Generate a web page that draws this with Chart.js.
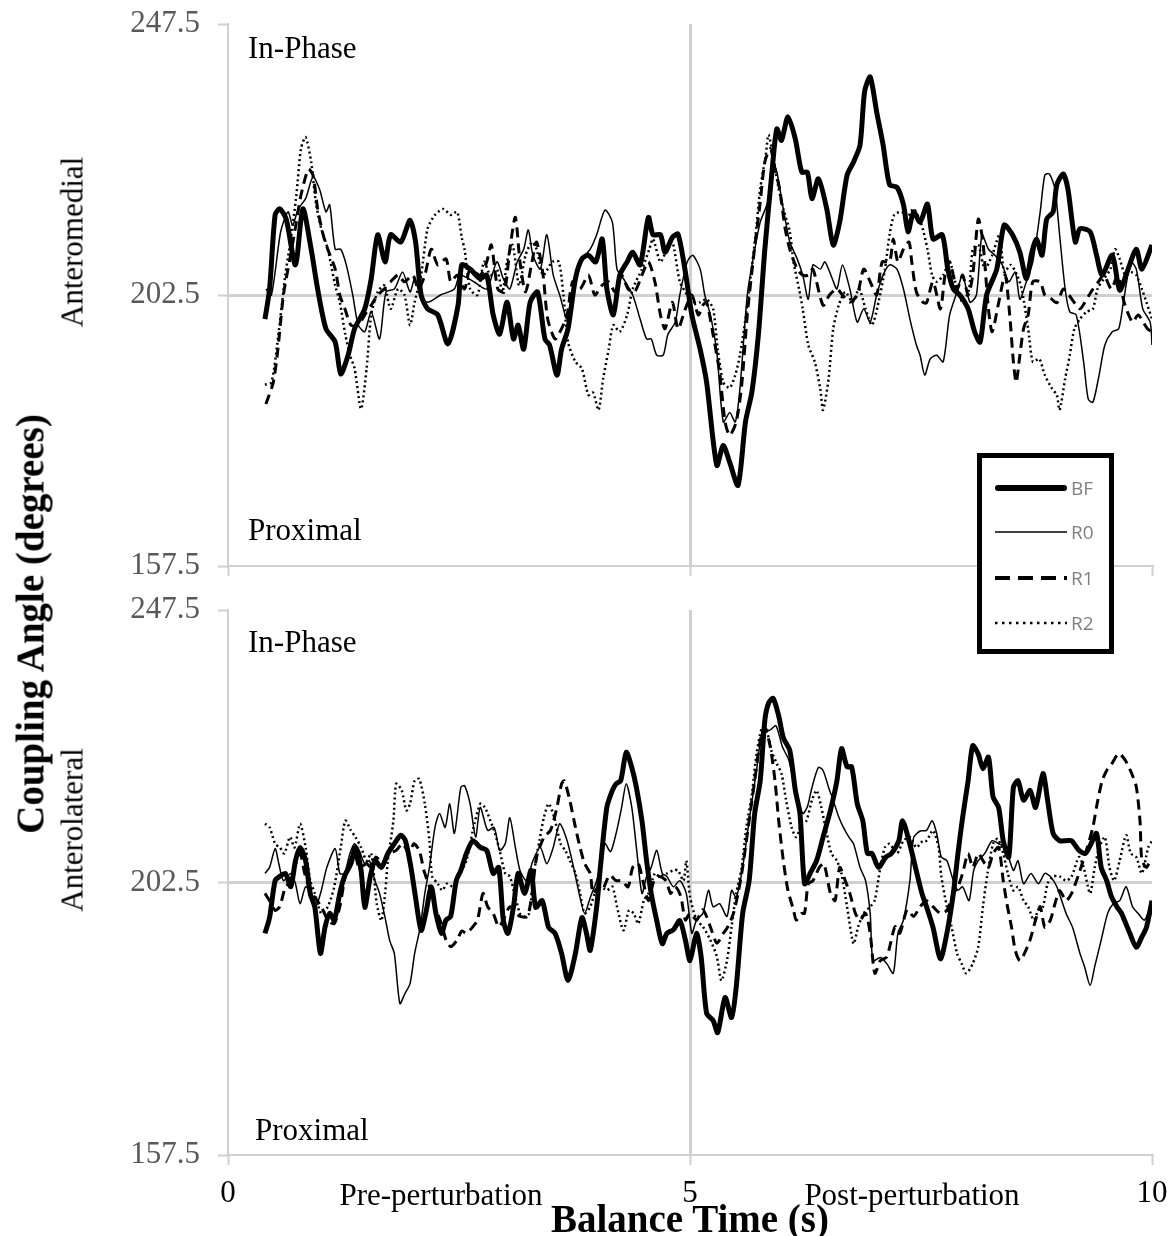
<!DOCTYPE html>
<html>
<head>
<meta charset="utf-8">
<script src="https://cdn.jsdelivr.net/npm/chart.js@4.4.1/dist/chart.umd.min.js"></script>
<style>
  body { margin: 0; background: #fff; }
  #page { position: relative; width: 1171px; height: 1236px; overflow: hidden; background: #fff;
          font-family: 'Liberation Serif', 'Times New Roman', serif; }
  canvas { position: absolute; left: 0; }
  #topChart { top: 0; }
  #bottomChart { top: 586px; }
  .lbl { position: absolute; font-size: 31px; line-height: 1; white-space: nowrap; color: #000; }
  .title { font-weight: bold; font-size: 39px; }
  .rot { transform: translate(-50%, -50%) rotate(-90deg); }
  .ctr { transform: translateX(-50%); }
  #legend { position: absolute; left: 977px; top: 453px; width: 137px; height: 201px; box-sizing: border-box;
            border: 5px solid #000; background: #fff; }
  .row { position: absolute; left: 13px; height: 20px; display: flex; align-items: center; }
  .row span { font-family: 'Open Sans', 'Liberation Sans', sans-serif; font-size: 19px; color: #7f7f7f; margin-left: 4px; }
</style>
</head>
<body>
<div id="page">
  <canvas id="topChart" width="1171" height="586"></canvas>
  <canvas id="bottomChart" width="1171" height="650"></canvas>

  <div class="lbl title rot" style="left:30px; top:624px;">Coupling Angle (degrees)</div>
  <div class="lbl rot" style="left:72px; top:242px;">Anteromedial</div>
  <div class="lbl rot" style="left:72px; top:830px;">Anterolateral</div>

  <div class="lbl" style="left:248px; top:32px;">In-Phase</div>
  <div class="lbl" style="left:248px; top:514px;">Proximal</div>
  <div class="lbl" style="left:248px; top:626px;">In-Phase</div>
  <div class="lbl" style="left:255px; top:1114px;">Proximal</div>

  <div class="lbl ctr" style="left:441px; top:1179px;">Pre-perturbation</div>
  <div class="lbl ctr" style="left:912px; top:1179px;">Post-perturbation</div>
  <div class="lbl title ctr" style="left:690px; top:1199px;">Balance Time (s)</div>

  <div id="legend"></div>
</div>
<script>
const seriesNames = ['BF', 'R0', 'R1', 'R2'];
const xTicks = [0, 5, 10];
const yTicks = [157.5, 202.5, 247.5];

// anteromedial panel, [time, angle]
const topBF = [[0.40,198.5],[0.45,203.5],[0.51,215.8],[0.56,216.8],[0.63,215.1],[0.73,207.5],[0.81,216.8],[0.90,210.1],[0.97,203.5],[1.06,196.9],[1.16,194.7],[1.22,189.4],[1.30,192.5],[1.37,196.9],[1.48,200.2],[1.55,205.2],[1.62,212.5],[1.70,208.0],[1.76,212.5],[1.87,211.3],[1.97,214.9],[2.03,211.3],[2.09,202.5],[2.16,200.2],[2.27,199.2],[2.38,194.4],[2.49,200.8],[2.53,207.5],[2.62,206.8],[2.73,205.2],[2.80,205.8],[2.87,199.2],[2.94,196.0],[3.02,201.3],[3.09,195.2],[3.14,197.5],[3.20,193.5],[3.27,201.3],[3.35,203.0],[3.43,195.2],[3.48,194.2],[3.56,189.2],[3.61,193.5],[3.68,196.9],[3.76,205.2],[3.83,208.5],[3.90,209.1],[3.98,208.0],[4.05,211.8],[4.10,203.5],[4.17,199.2],[4.24,205.8],[4.32,208.0],[4.38,209.6],[4.46,207.5],[4.55,215.4],[4.60,212.5],[4.68,212.5],[4.73,209.6],[4.81,212.1],[4.87,212.6],[4.95,206.3],[5.02,199.2],[5.11,193.5],[5.18,188.0],[5.29,174.2],[5.36,177.5],[5.43,174.7],[5.52,170.9],[5.60,181.4],[5.67,186.4],[5.74,195.9],[5.81,210.1],[5.89,223.4],[5.94,230.1],[5.99,228.2],[6.06,232.1],[6.14,228.4],[6.21,222.9],[6.27,222.9],[6.32,218.5],[6.39,221.8],[6.48,216.8],[6.55,210.8],[6.62,214.6],[6.70,222.4],[6.77,224.6],[6.84,227.4],[6.89,236.3],[6.95,238.7],[7.02,232.9],[7.09,227.4],[7.16,220.8],[7.24,220.4],[7.31,217.5],[7.36,213.0],[7.42,216.3],[7.49,214.6],[7.57,217.6],[7.63,211.8],[7.73,212.5],[7.79,206.8],[7.85,203.5],[7.92,202.5],[8.01,200.2],[8.08,196.4],[8.14,194.7],[8.21,202.5],[8.32,206.8],[8.40,214.1],[8.49,212.5],[8.57,209.6],[8.64,205.2],[8.70,209.6],[8.75,211.8],[8.81,209.1],[8.86,215.1],[8.93,216.3],[8.97,220.8],[9.04,222.6],[9.09,220.1],[9.17,211.3],[9.22,213.5],[9.33,213.0],[9.40,209.1],[9.46,205.8],[9.57,209.1],[9.65,203.3],[9.73,206.3],[9.83,210.1],[9.89,206.8],[10.0,210.8]];
const topR0 = [[0.41,203.5],[0.47,202.5],[0.57,213.0],[0.65,216.3],[0.70,214.1],[0.76,216.8],[0.84,218.5],[0.92,222.1],[0.99,220.1],[1.06,216.3],[1.10,217.5],[1.16,210.1],[1.22,210.1],[1.28,207.5],[1.35,202.5],[1.41,197.5],[1.48,196.4],[1.55,199.7],[1.64,195.2],[1.71,203.0],[1.80,203.5],[1.89,206.3],[1.97,203.0],[2.02,205.2],[2.08,202.5],[2.16,201.3],[2.30,202.5],[2.45,203.5],[2.51,205.8],[2.66,204.7],[2.80,203.5],[2.91,208.0],[2.98,205.2],[3.05,203.5],[3.13,208.0],[3.20,210.1],[3.25,213.3],[3.30,209.1],[3.38,206.8],[3.45,212.5],[3.52,205.8],[3.59,202.5],[3.67,198.5],[3.73,203.5],[3.81,208.0],[3.92,210.1],[3.99,212.5],[4.08,216.6],[4.16,214.6],[4.21,206.8],[4.28,205.2],[4.38,202.5],[4.46,198.5],[4.53,195.2],[4.58,195.2],[4.64,192.5],[4.71,192.5],[4.76,195.9],[4.84,198.0],[4.89,202.5],[4.97,208.0],[5.03,209.1],[5.11,206.8],[5.16,202.5],[5.22,199.2],[5.29,193.0],[5.36,181.4],[5.43,183.0],[5.49,181.4],[5.54,186.9],[5.62,202.5],[5.69,209.1],[5.76,214.6],[5.84,217.9],[5.89,224.6],[5.94,222.9],[6.01,216.8],[6.08,211.3],[6.16,208.5],[6.22,205.8],[6.28,201.8],[6.33,207.5],[6.41,206.8],[6.46,208.0],[6.54,205.2],[6.59,203.5],[6.65,207.5],[6.73,203.5],[6.81,198.0],[6.88,200.2],[6.95,198.0],[7.02,202.5],[7.09,205.8],[7.16,207.5],[7.24,206.8],[7.31,203.5],[7.38,198.5],[7.45,194.2],[7.49,192.5],[7.54,189.2],[7.60,191.9],[7.67,192.5],[7.74,191.4],[7.81,199.2],[7.89,203.0],[7.95,205.8],[8.03,201.3],[8.10,202.5],[8.16,212.5],[8.23,210.1],[8.30,209.1],[8.38,207.5],[8.45,204.7],[8.52,206.3],[8.57,201.8],[8.64,204.7],[8.71,208.0],[8.79,216.3],[8.84,222.4],[8.89,222.6],[8.95,220.1],[9.00,212.5],[9.06,203.5],[9.11,199.7],[9.18,199.2],[9.26,191.4],[9.31,185.2],[9.36,184.7],[9.42,188.6],[9.49,194.2],[9.57,196.4],[9.64,196.9],[9.69,201.3],[9.77,208.0],[9.83,206.8],[9.90,200.2],[9.98,198.0],[10.0,194.2]];
const topR1 = [[0.41,184.4],[0.49,188.0],[0.54,193.5],[0.60,202.5],[0.67,208.5],[0.74,214.6],[0.79,219.1],[0.87,223.4],[0.92,222.4],[0.97,216.8],[1.03,212.5],[1.08,210.1],[1.16,206.8],[1.21,202.5],[1.27,200.0],[1.33,197.5],[1.41,197.5],[1.48,199.2],[1.55,200.8],[1.62,202.5],[1.69,203.5],[1.76,204.7],[1.84,205.8],[1.91,204.7],[2.00,205.8],[2.06,203.5],[2.13,205.8],[2.20,210.1],[2.27,207.5],[2.36,208.5],[2.41,204.7],[2.48,205.8],[2.56,203.5],[2.62,206.8],[2.73,205.8],[2.80,208.0],[2.85,210.8],[2.92,203.5],[2.99,203.0],[3.05,210.1],[3.11,215.4],[3.16,208.0],[3.22,203.0],[3.29,208.0],[3.34,211.3],[3.41,205.8],[3.46,198.5],[3.54,195.2],[3.61,196.9],[3.67,199.2],[3.73,204.7],[3.81,203.5],[3.90,205.8],[3.97,202.5],[4.04,204.0],[4.12,204.7],[4.19,203.0],[4.26,205.8],[4.33,203.5],[4.40,203.0],[4.48,205.8],[4.55,208.0],[4.62,204.7],[4.68,199.2],[4.73,196.9],[4.81,201.3],[4.87,196.9],[4.95,200.2],[5.02,202.5],[5.09,199.2],[5.14,200.8],[5.18,201.3],[5.25,195.9],[5.32,189.7],[5.38,181.4],[5.43,179.2],[5.50,181.4],[5.56,187.6],[5.62,199.2],[5.69,209.1],[5.76,217.9],[5.81,224.6],[5.87,226.8],[5.92,223.4],[5.97,220.1],[6.03,213.5],[6.08,210.1],[6.16,206.8],[6.22,205.8],[6.28,205.8],[6.33,206.8],[6.44,200.8],[6.51,202.5],[6.59,203.5],[6.65,202.5],[6.73,201.3],[6.81,202.5],[6.88,206.8],[6.95,204.7],[7.02,202.5],[7.08,208.0],[7.16,208.0],[7.20,211.8],[7.25,208.0],[7.31,210.1],[7.37,211.3],[7.40,208.0],[7.45,203.0],[7.52,201.3],[7.56,201.2],[7.63,204.7],[7.71,200.2],[7.76,205.8],[7.81,208.0],[7.89,203.5],[7.95,205.8],[8.01,202.5],[8.06,205.8],[8.12,215.1],[8.17,211.3],[8.23,200.2],[8.27,196.4],[8.34,201.2],[8.41,205.8],[8.46,199.2],[8.50,191.4],[8.53,188.0],[8.57,192.5],[8.61,196.9],[8.66,199.2],[8.71,204.7],[8.79,204.7],[8.84,202.5],[8.90,202.0],[8.97,201.2],[9.04,203.5],[9.10,202.5],[9.22,200.2],[9.27,201.2],[9.34,203.0],[9.42,204.7],[9.48,205.8],[9.56,203.5],[9.63,205.8],[9.70,201.2],[9.79,198.0],[9.85,199.2],[9.95,196.9],[10.0,196.4]];
const topR2 = [[0.40,187.6],[0.47,188.0],[0.54,195.2],[0.62,205.8],[0.68,211.8],[0.74,219.1],[0.79,226.8],[0.84,228.7],[0.90,224.6],[0.95,217.9],[1.01,213.5],[1.08,210.1],[1.16,204.1],[1.21,201.3],[1.27,195.9],[1.32,192.5],[1.37,190.3],[1.44,183.6],[1.50,190.3],[1.55,199.2],[1.62,203.0],[1.69,204.1],[1.76,200.2],[1.84,203.5],[1.91,202.5],[1.97,197.5],[2.02,201.3],[2.09,205.8],[2.16,213.5],[2.24,215.8],[2.33,216.8],[2.41,215.8],[2.48,216.3],[2.53,212.0],[2.56,210.1],[2.62,203.5],[2.70,202.5],[2.77,208.0],[2.84,205.8],[2.91,206.8],[2.97,203.0],[3.02,208.0],[3.08,210.8],[3.15,204.1],[3.22,209.1],[3.29,211.3],[3.34,210.1],[3.41,205.8],[3.51,208.0],[3.58,208.0],[3.63,202.5],[3.68,194.7],[3.76,191.4],[3.83,190.3],[3.90,185.9],[3.95,186.3],[4.01,183.4],[4.06,188.6],[4.12,193.5],[4.17,197.5],[4.24,196.4],[4.32,199.2],[4.38,203.5],[4.48,206.8],[4.56,210.1],[4.60,211.8],[4.68,208.0],[4.75,210.1],[4.81,211.3],[4.89,204.7],[4.97,202.5],[5.03,201.0],[5.11,201.3],[5.18,201.8],[5.25,200.2],[5.30,193.5],[5.36,188.0],[5.43,187.1],[5.49,189.2],[5.54,192.5],[5.60,198.5],[5.65,204.7],[5.71,212.5],[5.76,220.1],[5.82,225.7],[5.85,229.1],[5.91,224.6],[5.96,220.1],[6.01,216.8],[6.08,213.0],[6.12,208.0],[6.18,203.5],[6.22,200.2],[6.28,194.2],[6.35,191.4],[6.41,186.9],[6.44,183.4],[6.50,188.6],[6.55,196.9],[6.61,200.8],[6.68,203.0],[6.76,201.3],[6.83,203.5],[6.90,200.2],[6.97,197.5],[7.04,201.3],[7.11,206.8],[7.16,212.5],[7.21,215.8],[7.29,216.3],[7.35,215.4],[7.42,216.8],[7.50,214.5],[7.57,210.1],[7.62,205.8],[7.67,204.7],[7.74,205.8],[7.81,208.0],[7.88,204.1],[7.95,201.3],[8.02,203.5],[8.06,210.1],[8.12,210.8],[8.19,206.8],[8.27,209.1],[8.35,212.5],[8.40,206.3],[8.47,207.5],[8.54,205.8],[8.59,203.5],[8.66,196.9],[8.71,191.4],[8.78,191.9],[8.84,189.2],[8.92,186.9],[8.97,185.9],[9.00,183.4],[9.06,188.6],[9.11,192.5],[9.16,196.9],[9.22,198.5],[9.29,199.7],[9.36,200.2],[9.41,203.5],[9.48,205.2],[9.55,206.8],[9.60,210.1],[9.65,208.5],[9.71,205.8],[9.77,206.3],[9.83,205.8],[9.89,203.5],[9.94,201.3],[10.0,198.5]];

// anterolateral panel
const botBF = [[0.40,194.1],[0.45,196.7],[0.51,202.8],[0.56,203.5],[0.62,204.0],[0.68,201.8],[0.73,206.1],[0.78,208.3],[0.84,206.1],[0.89,200.7],[0.94,198.4],[1.00,190.8],[1.05,195.1],[1.10,197.4],[1.15,196.3],[1.21,200.7],[1.26,203.5],[1.33,205.6],[1.38,208.3],[1.44,204.5],[1.48,198.4],[1.54,203.5],[1.59,206.1],[1.66,205.0],[1.73,207.3],[1.80,208.9],[1.87,210.3],[1.92,209.4],[1.98,205.0],[2.03,200.0],[2.09,194.6],[2.14,197.4],[2.20,201.8],[2.25,197.4],[2.31,194.1],[2.36,196.3],[2.41,196.9],[2.47,202.8],[2.52,204.5],[2.58,207.3],[2.65,209.4],[2.73,208.3],[2.80,207.8],[2.87,204.0],[2.93,205.0],[2.98,196.2],[3.03,194.1],[3.09,198.5],[3.14,204.0],[3.21,200.7],[3.28,204.5],[3.33,198.4],[3.40,199.5],[3.47,195.1],[3.54,194.1],[3.61,190.8],[3.68,186.3],[3.76,190.8],[3.83,196.7],[3.88,194.1],[3.92,191.3],[3.99,198.5],[4.03,205.0],[4.10,214.9],[4.16,217.7],[4.20,218.8],[4.25,219.3],[4.31,224.0],[4.37,221.5],[4.42,218.2],[4.48,212.7],[4.53,206.1],[4.58,200.7],[4.64,196.2],[4.70,192.4],[4.75,194.1],[4.82,194.7],[4.89,196.2],[4.95,193.0],[5.00,189.6],[5.07,194.1],[5.12,190.3],[5.18,180.9],[5.25,179.7],[5.30,177.7],[5.38,183.5],[5.45,180.2],[5.50,185.2],[5.57,197.4],[5.64,202.8],[5.70,213.9],[5.76,219.3],[5.81,229.3],[5.85,232.1],[5.90,232.9],[5.96,230.0],[6.01,226.4],[6.08,224.3],[6.14,217.7],[6.19,213.9],[6.24,202.3],[6.30,204.0],[6.37,206.1],[6.44,210.0],[6.52,214.4],[6.59,219.3],[6.64,224.6],[6.70,221.6],[6.75,221.6],[6.81,215.5],[6.87,212.7],[6.92,207.3],[6.97,207.3],[7.04,205.0],[7.12,206.7],[7.18,207.3],[7.26,209.4],[7.30,212.7],[7.37,209.4],[7.44,205.0],[7.51,200.7],[7.56,198.5],[7.63,195.1],[7.71,189.9],[7.78,194.1],[7.85,200.7],[7.90,207.3],[7.95,213.2],[8.01,219.3],[8.06,225.1],[8.12,223.7],[8.17,221.3],[8.23,223.2],[8.28,216.6],[8.34,214.9],[8.39,209.4],[8.45,206.7],[8.50,218.2],[8.55,219.3],[8.61,216.1],[8.68,217.7],[8.74,214.9],[8.82,220.5],[8.87,216.1],[8.93,210.6],[9.00,209.4],[9.07,209.4],[9.13,209.4],[9.21,207.8],[9.28,207.3],[9.34,208.9],[9.40,210.6],[9.45,205.0],[9.51,202.8],[9.56,200.2],[9.62,198.5],[9.67,197.4],[9.76,194.1],[9.83,191.8],[9.89,193.5],[9.94,195.1],[10.0,199.5]];
const botR0 = [[0.40,204.0],[0.45,205.0],[0.51,208.1],[0.55,205.6],[0.60,202.8],[0.68,204.0],[0.73,202.3],[0.78,199.0],[0.84,201.8],[0.90,200.7],[0.95,198.5],[1.01,201.2],[1.07,205.0],[1.16,208.1],[1.21,204.0],[1.26,204.0],[1.32,207.3],[1.37,208.9],[1.42,207.8],[1.48,205.6],[1.53,206.1],[1.59,202.8],[1.64,200.7],[1.70,196.7],[1.75,192.9],[1.80,190.8],[1.86,182.5],[1.91,184.0],[1.97,185.8],[2.02,190.8],[2.08,195.1],[2.13,200.7],[2.18,205.0],[2.24,211.6],[2.29,213.9],[2.35,211.6],[2.40,215.5],[2.45,210.6],[2.52,218.2],[2.56,218.5],[2.62,215.5],[2.68,210.0],[2.73,214.9],[2.81,211.1],[2.88,211.6],[2.94,207.8],[3.00,208.9],[3.05,213.2],[3.11,208.3],[3.16,204.5],[3.23,202.8],[3.30,206.1],[3.38,208.3],[3.45,205.6],[3.52,208.3],[3.59,212.2],[3.67,209.4],[3.74,205.0],[3.81,200.0],[3.86,197.4],[3.92,200.0],[3.99,202.8],[4.04,206.1],[4.08,208.9],[4.14,207.6],[4.20,210.6],[4.26,214.9],[4.31,218.8],[4.37,214.9],[4.42,208.3],[4.48,200.7],[4.53,203.5],[4.58,205.0],[4.64,207.8],[4.70,204.0],[4.75,203.5],[4.82,201.8],[4.89,202.8],[4.96,200.7],[5.02,194.1],[5.07,196.3],[5.14,197.4],[5.20,201.2],[5.25,198.5],[5.32,199.0],[5.40,196.9],[5.45,201.2],[5.50,200.0],[5.57,205.0],[5.64,212.7],[5.72,221.0],[5.79,228.1],[5.86,227.6],[5.93,228.4],[6.00,224.9],[6.07,222.7],[6.14,217.7],[6.22,213.9],[6.27,215.0],[6.32,218.2],[6.39,221.5],[6.44,221.0],[6.50,218.2],[6.55,216.1],[6.61,213.3],[6.66,211.6],[6.72,210.0],[6.77,208.9],[6.84,205.0],[6.90,202.8],[6.95,197.4],[6.98,189.6],[7.06,190.1],[7.13,189.1],[7.20,187.5],[7.25,194.1],[7.31,196.3],[7.38,202.8],[7.42,209.9],[7.49,211.0],[7.56,211.1],[7.62,212.7],[7.67,210.6],[7.72,206.7],[7.78,206.1],[7.85,202.8],[7.90,201.2],[7.95,201.8],[8.02,199.5],[8.07,204.5],[8.12,206.1],[8.19,207.3],[8.27,209.4],[8.34,208.9],[8.41,208.3],[8.50,204.5],[8.55,206.1],[8.61,202.3],[8.69,204.0],[8.77,202.3],[8.84,204.0],[8.90,203.5],[8.97,201.8],[9.07,197.4],[9.14,195.1],[9.22,190.8],[9.27,188.6],[9.33,185.5],[9.38,188.6],[9.45,193.0],[9.52,197.4],[9.58,199.0],[9.65,199.5],[9.72,201.8],[9.79,198.5],[9.85,197.4],[9.92,196.3],[10.0,199.5]];
const botR1 = [[0.40,200.7],[0.45,199.5],[0.51,197.9],[0.56,198.5],[0.61,201.2],[0.67,202.8],[0.72,205.0],[0.78,207.3],[0.83,204.0],[0.89,201.2],[0.94,200.0],[1.01,198.5],[1.08,196.3],[1.15,195.7],[1.21,198.5],[1.26,202.8],[1.32,206.1],[1.37,207.3],[1.42,205.0],[1.50,205.6],[1.55,205.0],[1.60,206.7],[1.68,205.6],[1.75,207.3],[1.82,207.8],[1.89,208.9],[1.96,207.3],[2.01,208.9],[2.07,207.8],[2.12,204.5],[2.18,201.8],[2.24,198.5],[2.31,195.7],[2.36,193.0],[2.41,191.9],[2.48,193.0],[2.53,194.5],[2.58,194.1],[2.65,195.2],[2.70,196.3],[2.76,200.7],[2.81,198.5],[2.87,197.4],[2.93,195.2],[2.98,196.3],[3.05,198.5],[3.12,197.4],[3.16,196.9],[3.24,196.9],[3.29,200.7],[3.34,206.7],[3.42,210.0],[3.49,211.1],[3.56,214.9],[3.61,218.8],[3.64,219.3],[3.70,216.0],[3.76,211.6],[3.81,208.3],[3.86,205.6],[3.92,204.0],[3.95,200.7],[4.01,201.8],[4.05,201.2],[4.13,203.7],[4.20,202.8],[4.26,202.8],[4.33,201.8],[4.38,205.0],[4.44,205.6],[4.49,202.8],[4.55,199.5],[4.61,202.8],[4.67,203.5],[4.74,202.8],[4.79,200.7],[4.84,201.8],[4.90,200.2],[4.95,196.3],[5.00,197.4],[5.07,196.3],[5.14,198.0],[5.22,195.2],[5.29,192.5],[5.36,194.1],[5.41,195.2],[5.47,197.4],[5.52,200.7],[5.57,205.0],[5.64,212.7],[5.70,219.3],[5.76,225.9],[5.81,228.1],[5.87,224.8],[5.92,219.3],[5.96,212.7],[6.01,206.1],[6.06,201.2],[6.12,198.0],[6.15,196.3],[6.21,197.4],[6.24,197.4],[6.28,202.3],[6.33,202.8],[6.40,205.0],[6.45,205.6],[6.52,200.7],[6.57,199.5],[6.62,205.0],[6.68,202.8],[6.73,200.7],[6.79,197.4],[6.84,196.3],[6.90,197.4],[6.95,194.1],[7.00,187.5],[7.06,189.6],[7.13,190.2],[7.16,191.8],[7.22,195.2],[7.27,194.1],[7.35,198.0],[7.42,196.9],[7.49,198.5],[7.56,199.5],[7.63,198.5],[7.71,197.4],[7.78,197.9],[7.85,200.7],[7.90,201.8],[7.95,204.0],[8.01,207.3],[8.06,205.0],[8.12,207.3],[8.17,206.1],[8.23,205.0],[8.28,207.3],[8.34,208.3],[8.39,202.8],[8.43,199.0],[8.48,195.1],[8.52,191.3],[8.57,189.6],[8.62,190.8],[8.68,193.0],[8.74,196.3],[8.79,198.5],[8.84,195.1],[8.90,196.3],[8.95,199.0],[9.00,201.2],[9.07,199.5],[9.13,200.7],[9.21,204.0],[9.28,207.3],[9.36,211.6],[9.40,215.0],[9.46,219.3],[9.51,221.0],[9.56,222.0],[9.64,223.8],[9.71,222.7],[9.78,220.5],[9.83,218.3],[9.87,212.7],[9.89,206.2],[9.94,205.0],[9.98,206.2]];
const botR2 = [[0.40,212.2],[0.45,211.6],[0.51,208.9],[0.56,208.3],[0.61,207.3],[0.67,210.0],[0.72,208.3],[0.78,212.2],[0.84,208.3],[0.89,202.8],[0.94,200.7],[1.01,197.4],[1.08,198.5],[1.15,201.8],[1.22,208.3],[1.27,212.7],[1.33,211.1],[1.38,210.0],[1.44,208.3],[1.50,206.1],[1.55,207.3],[1.61,199.0],[1.66,196.2],[1.70,200.7],[1.73,206.1],[1.79,212.7],[1.82,218.8],[1.88,217.7],[1.93,214.4],[1.97,215.5],[2.02,219.3],[2.07,219.6],[2.13,215.5],[2.18,209.4],[2.21,203.5],[2.27,202.3],[2.32,201.2],[2.37,202.3],[2.44,201.8],[2.51,204.0],[2.58,206.1],[2.65,211.1],[2.73,215.5],[2.78,214.9],[2.84,212.7],[2.89,210.6],[2.94,207.8],[3.00,204.0],[3.05,203.5],[3.10,200.7],[3.16,197.4],[3.21,196.9],[3.26,197.4],[3.31,204.0],[3.37,209.4],[3.42,213.3],[3.47,215.5],[3.53,213.3],[3.60,208.9],[3.65,207.8],[3.70,206.1],[3.76,204.0],[3.81,200.7],[3.86,197.4],[3.92,198.5],[3.97,200.7],[4.03,201.8],[4.10,201.2],[4.16,201.8],[4.21,198.5],[4.28,194.6],[4.34,197.9],[4.39,197.4],[4.44,195.7],[4.50,199.5],[4.55,200.7],[4.62,204.0],[4.67,203.5],[4.75,204.0],[4.82,204.5],[4.87,204.5],[4.93,202.8],[4.96,206.1],[5.00,200.2],[5.07,196.3],[5.14,195.2],[5.22,193.0],[5.29,190.3],[5.34,186.3],[5.40,189.6],[5.45,195.2],[5.50,200.7],[5.56,205.0],[5.61,211.6],[5.67,217.1],[5.72,223.7],[5.78,228.1],[5.83,227.6],[5.88,224.3],[5.94,222.1],[5.99,220.5],[6.04,216.1],[6.10,211.6],[6.15,210.0],[6.21,212.2],[6.26,212.7],[6.32,216.1],[6.37,217.7],[6.42,215.0],[6.48,210.6],[6.53,207.3],[6.59,206.1],[6.64,203.9],[6.70,198.5],[6.77,192.4],[6.82,195.2],[6.88,197.4],[6.95,198.5],[7.00,199.6],[7.06,205.0],[7.11,208.3],[7.16,208.9],[7.24,207.3],[7.31,209.4],[7.38,210.0],[7.45,208.3],[7.52,209.4],[7.56,209.4],[7.63,211.1],[7.69,208.3],[7.72,203.5],[7.78,198.5],[7.83,195.2],[7.89,190.8],[7.94,189.1],[7.99,187.5],[8.06,189.1],[8.12,191.9],[8.17,198.5],[8.22,204.0],[8.28,208.9],[8.33,209.7],[8.39,207.3],[8.44,204.0],[8.50,201.2],[8.55,201.8],[8.61,199.5],[8.66,198.5],[8.72,196.3],[8.77,197.9],[8.82,198.5],[8.87,202.3],[8.93,203.5],[9.00,203.5],[9.07,202.8],[9.13,203.5],[9.21,206.7],[9.26,205.0],[9.33,200.7],[9.38,205.0],[9.43,208.3],[9.49,210.0],[9.54,205.0],[9.59,202.8],[9.65,206.1],[9.72,210.3],[9.77,207.3],[9.83,206.7],[9.89,204.0],[9.96,208.3],[10.0,209.4]];

const serif = "'Liberation Serif', 'Times New Roman', serif";
const gridColor = '#d0d0d0';
const axisColor = '#d0d0d0';

// line look per series: BF thick, R0 thin, R1 dashed, R2 dotted
const lineStyles = [
  { width: 5, dash: [] },
  { width: 1.5, dash: [] },
  { width: 3, dash: [10, 6] },
  { width: 2.5, dash: [2, 3] }
];

function makePanel(id, series, showXLabels, xAxisHeight) {
  const datasets = series.map((pts, i) => ({
    label: seriesNames[i],
    data: pts.map(p => ({ x: p[0], y: p[1] })),
    borderColor: '#000',
    borderWidth: lineStyles[i].width,
    borderDash: lineStyles[i].dash,
    borderJoinStyle: 'round',
    pointRadius: 0,
    tension: 0.25,
    fill: false,
    order: i === 0 ? 0 : 1
  }));

  return new Chart(document.getElementById(id), {
    type: 'line',
    data: { datasets },
    options: {
      responsive: false,
      animation: false,
      layout: { padding: { top: 24, right: 19, left: 0, bottom: 0 } },
      plugins: { legend: { display: false }, tooltip: { enabled: false } },
      scales: {
        x: {
          type: 'linear', min: 0, max: 10,
          afterBuildTicks: s => { s.ticks = xTicks.map(v => ({ value: v })); },
          // fixed height, and let the end labels hang into the page margin
          afterFit: s => { s.height = xAxisHeight; s.paddingLeft = 0; s.paddingRight = 0; },
          grid: {
            color: c => (c.tick && c.tick.value === 5) ? gridColor : 'rgba(0,0,0,0)',
            lineWidth: 3, tickColor: axisColor, tickLength: 10, tickWidth: 2
          },
          border: { color: axisColor, width: 2 },
          ticks: { display: showXLabels, color: '#000', font: { family: serif, size: 31 },
                   padding: 10, maxRotation: 0, autoSkip: false }
        },
        y: {
          min: 157.5, max: 247.5,
          afterBuildTicks: s => { s.ticks = yTicks.map(v => ({ value: v })); },
          afterFit: s => { s.width = 228; s.paddingTop = 0; s.paddingBottom = 0; },
          grid: {
            color: c => (c.tick && c.tick.value === 202.5) ? gridColor : 'rgba(0,0,0,0)',
            lineWidth: 3, tickColor: axisColor, tickLength: 10, tickWidth: 2
          },
          border: { color: axisColor, width: 2 },
          ticks: { color: '#595959', font: { family: serif, size: 31 }, padding: 18,
                   callback: v => v.toFixed(1) }
        }
      }
    }
  });
}

makePanel('topChart', [topBF, topR0, topR1, topR2], false, 20);
makePanel('bottomChart', [botBF, botR0, botR1, botR2], true, 81);

// legend box sitting across both panels
const legend = document.getElementById('legend');
const rowTops = [30, 74, 120, 165];
const legendStyles = [
  { width: 6, dash: [] },
  { width: 1.5, dash: [] },
  { width: 4, dash: [15, 8] },
  { width: 2.5, dash: [2.5, 4.5] }
];
seriesNames.forEach((name, i) => {
  const row = document.createElement('div');
  row.className = 'row';
  row.style.top = (rowTops[i] - 10) + 'px';
  const c = document.createElement('canvas');
  c.width = 72; c.height = 10;
  c.style.position = 'static';
  const g = c.getContext('2d');
  g.strokeStyle = '#000';
  g.lineWidth = legendStyles[i].width;
  g.lineCap = i === 0 ? 'round' : 'butt';
  g.setLineDash(legendStyles[i].dash);
  g.beginPath();
  g.moveTo(i === 0 ? 3 : 0, 5);
  g.lineTo(i === 0 ? 69 : 72, 5);
  g.stroke();
  const t = document.createElement('span');
  t.textContent = name;
  row.appendChild(c);
  row.appendChild(t);
  legend.appendChild(row);
});
</script>
</body>
</html>
